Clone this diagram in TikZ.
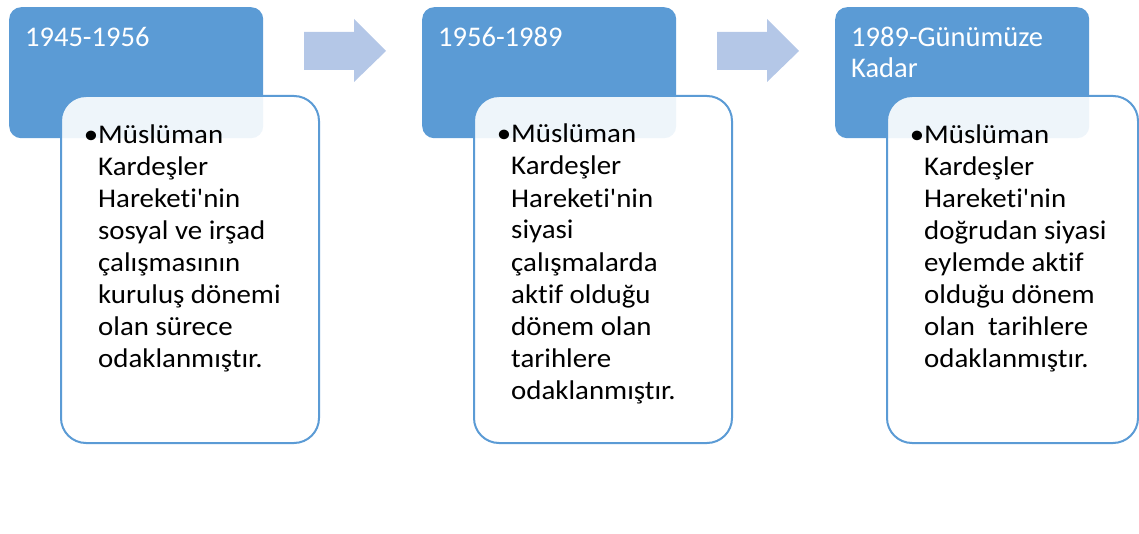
\documentclass[tikz,border=0pt]{standalone}
\usepackage{fontspec}
\setmainfont{Carlito}[Ligatures=CommonOff]
\newfontfamily\bodyfont{Carlito}[FakeStretch=1.07,Ligatures=CommonOff]
\begin{document}
\begin{tikzpicture}[x=1pt,y=-1pt]
\definecolor{hdrblue}{HTML}{5B9BD5}
\definecolor{arrblue}{HTML}{B4C7E7}
\tikzset{
 hdr/.style={fill=hdrblue, rounded corners=12pt, draw=none, anchor=north west, minimum width=254pt, minimum height=131pt, inner sep=0},
 card/.style={draw=hdrblue, line width=2pt, fill=white, fill opacity=0.9, draw opacity=1, rounded corners=25pt, anchor=north west, minimum height=347pt, inner sep=0},
 hdrtext/.style={anchor=base west, text=white, font=\fontsize{28.5}{31}\selectfont, align=left, inner sep=0},
 bodytext/.style={anchor=base west, font=\bodyfont\fontsize{27}{32}\selectfont, align=left, inner sep=0},
 blockarrow/.style={fill=arrblue, draw=none}
}
\useasboundingbox (0,0) rectangle (1139,534);
% headers
\node[hdr] (h1) at (9,7) {};
\node[hdr] (h2) at (422,7) {};
\node[hdr] (h3) at (835,7) {};
% arrows
\fill[blockarrow] (304,32) -- (354,32) -- (354,19) -- (386,51) -- (354,82) -- (354,70) -- (304,70) -- cycle;
\fill[blockarrow] (717,32) -- (767,32) -- (767,19) -- (799,51) -- (767,82) -- (767,70) -- (717,70) -- cycle;
% cards
\node[card, minimum width=258pt] (c1) at (60,95) {};
\node[card, minimum width=258pt] (c2) at (473,95) {};
\node[card, minimum width=251pt] (c3) at (886,95) {};
% header texts (anchor = baseline of last line)
\node[hdrtext] (t1) at (25,47) {1945-1956};
\node[hdrtext] (t2) at (438,47) {1956-1989};
\node[hdrtext] (t3) at (851,78) {1989-Günümüze\\Kadar};
% body texts (anchor = baseline of last line)
\node[bodytext] (b1) at (98,367) {\llap{•}Müslüman\\Kardeşler\\Hareketi'nin\\sosyal ve irşad\\çalışmasının\\kuruluş dönemi\\olan sürece\\odaklanmıştır.};
\node[bodytext] (b2) at (511,399) {\llap{•}Müslüman\\Kardeşler\\Hareketi'nin\\siyasi\\çalışmalarda\\aktif olduğu\\dönem olan\\tarihlere\\odaklanmıştır.};
\node[bodytext] (b3) at (924,367) {\llap{•}Müslüman\\Kardeşler\\Hareketi'nin\\doğrudan siyasi\\eylemde aktif\\olduğu dönem\\olan\ \ tarihlere\\odaklanmıştır.};
\end{tikzpicture}
\end{document}
